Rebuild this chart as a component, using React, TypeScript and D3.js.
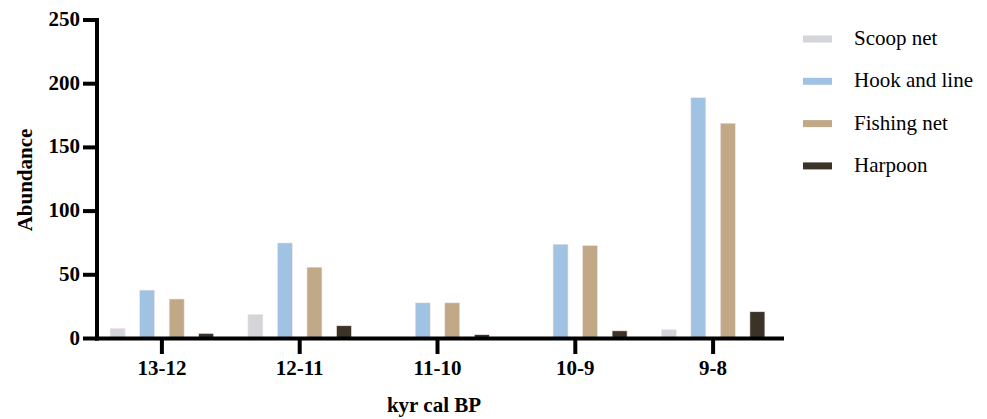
import React from "react";
import * as d3 from "d3";

const categories = ["13-12", "12-11", "11-10", "10-9", "9-8"];
const seriesNames = ["Scoop net", "Hook and line", "Fishing net", "Harpoon"];
const scoopNet = [8, 19, 0, 0, 7];
const hookAndLine = [38, 75, 28, 74, 189];
const fishingNet = [31, 56, 28, 73, 169];
const harpoon = [4, 10, 3, 6, 21];
const yTicks = [0, 50, 100, 150, 200, 250];
const colors = ["#d3d5d8", "#a0c2e3", "#c1a887", "#3b3327"];

const seriesValues = [scoopNet, hookAndLine, fishingNet, harpoon];

const FONT = "'Liberation Serif', 'Times New Roman', Times, serif";

export default function App() {
  const W = 987, H = 419;
  const x = d3.scaleBand<string>().domain(categories).range([93, 782]).paddingInner(0).paddingOuter(0);
  const y = d3.scaleLinear().domain([0, 250]).range([338.5, 20]);
  const offset = d3.scaleLinear().domain([0, 3]).range([-44.3, 44.3]);
  const barW = 15;
  const ts = { fontFamily: FONT };
  const fs = 21;
  return (
    <svg width={W} height={H} style={{ position: "absolute", left: 0, top: 0, background: "#fff", fontFamily: FONT }}>
      <g>
        {seriesValues.map((vals, si) =>
          vals.map((v, ci) => {
            const cx = (x(categories[ci]) as number) + x.bandwidth() / 2 + offset(si);
            return v > 0 ? (
              <rect key={si + "-" + ci} x={cx - barW / 2} y={y(v)} width={barW} height={y(0) - y(v)} fill={colors[si]} stroke="#f6e6e6" strokeWidth={0.6} />
            ) : null;
          })
        )}
      </g>
      <line x1={97} x2={97} y1={18} y2={340.5} stroke="#000" strokeWidth={4} />
      <line x1={95} x2={784} y1={338.5} y2={338.5} stroke="#000" strokeWidth={4} />
      {yTicks.map((t) => (
        <g key={t}>
          <line x1={83} x2={97} y1={y(t)} y2={y(t)} stroke="#000" strokeWidth={4} />
          <text x={80} y={y(t) + 6} textAnchor="end" style={ts} fontWeight="bold" fontSize={fs}>{t}</text>
        </g>
      ))}
      {categories.map((c) => {
        const cx = (x(c) as number) + x.bandwidth() / 2;
        return (
          <g key={c}>
            <line x1={cx} x2={cx} y1={338.5} y2={354} stroke="#000" strokeWidth={4} />
            <text x={cx} y={375} textAnchor="middle" style={ts} fontWeight="bold" fontSize={fs}>{c}</text>
          </g>
        );
      })}
      <text x={434} y={412} textAnchor="middle" style={ts} fontWeight="bold" fontSize={fs}>kyr cal BP</text>
      <text transform="translate(32,180) rotate(-90)" textAnchor="middle" style={ts} fontWeight="bold" fontSize={fs}>Abundance</text>
      {seriesNames.map((n, i) => (
        <g key={n}>
          <rect x={803} y={39 + i * 42.3 - 3.5} width={29} height={7} fill={colors[i]} />
          <text x={854} y={39 + i * 42.3 + 6} style={ts} fontSize={fs}>{n}</text>
        </g>
      ))}
    </svg>
  );
}
